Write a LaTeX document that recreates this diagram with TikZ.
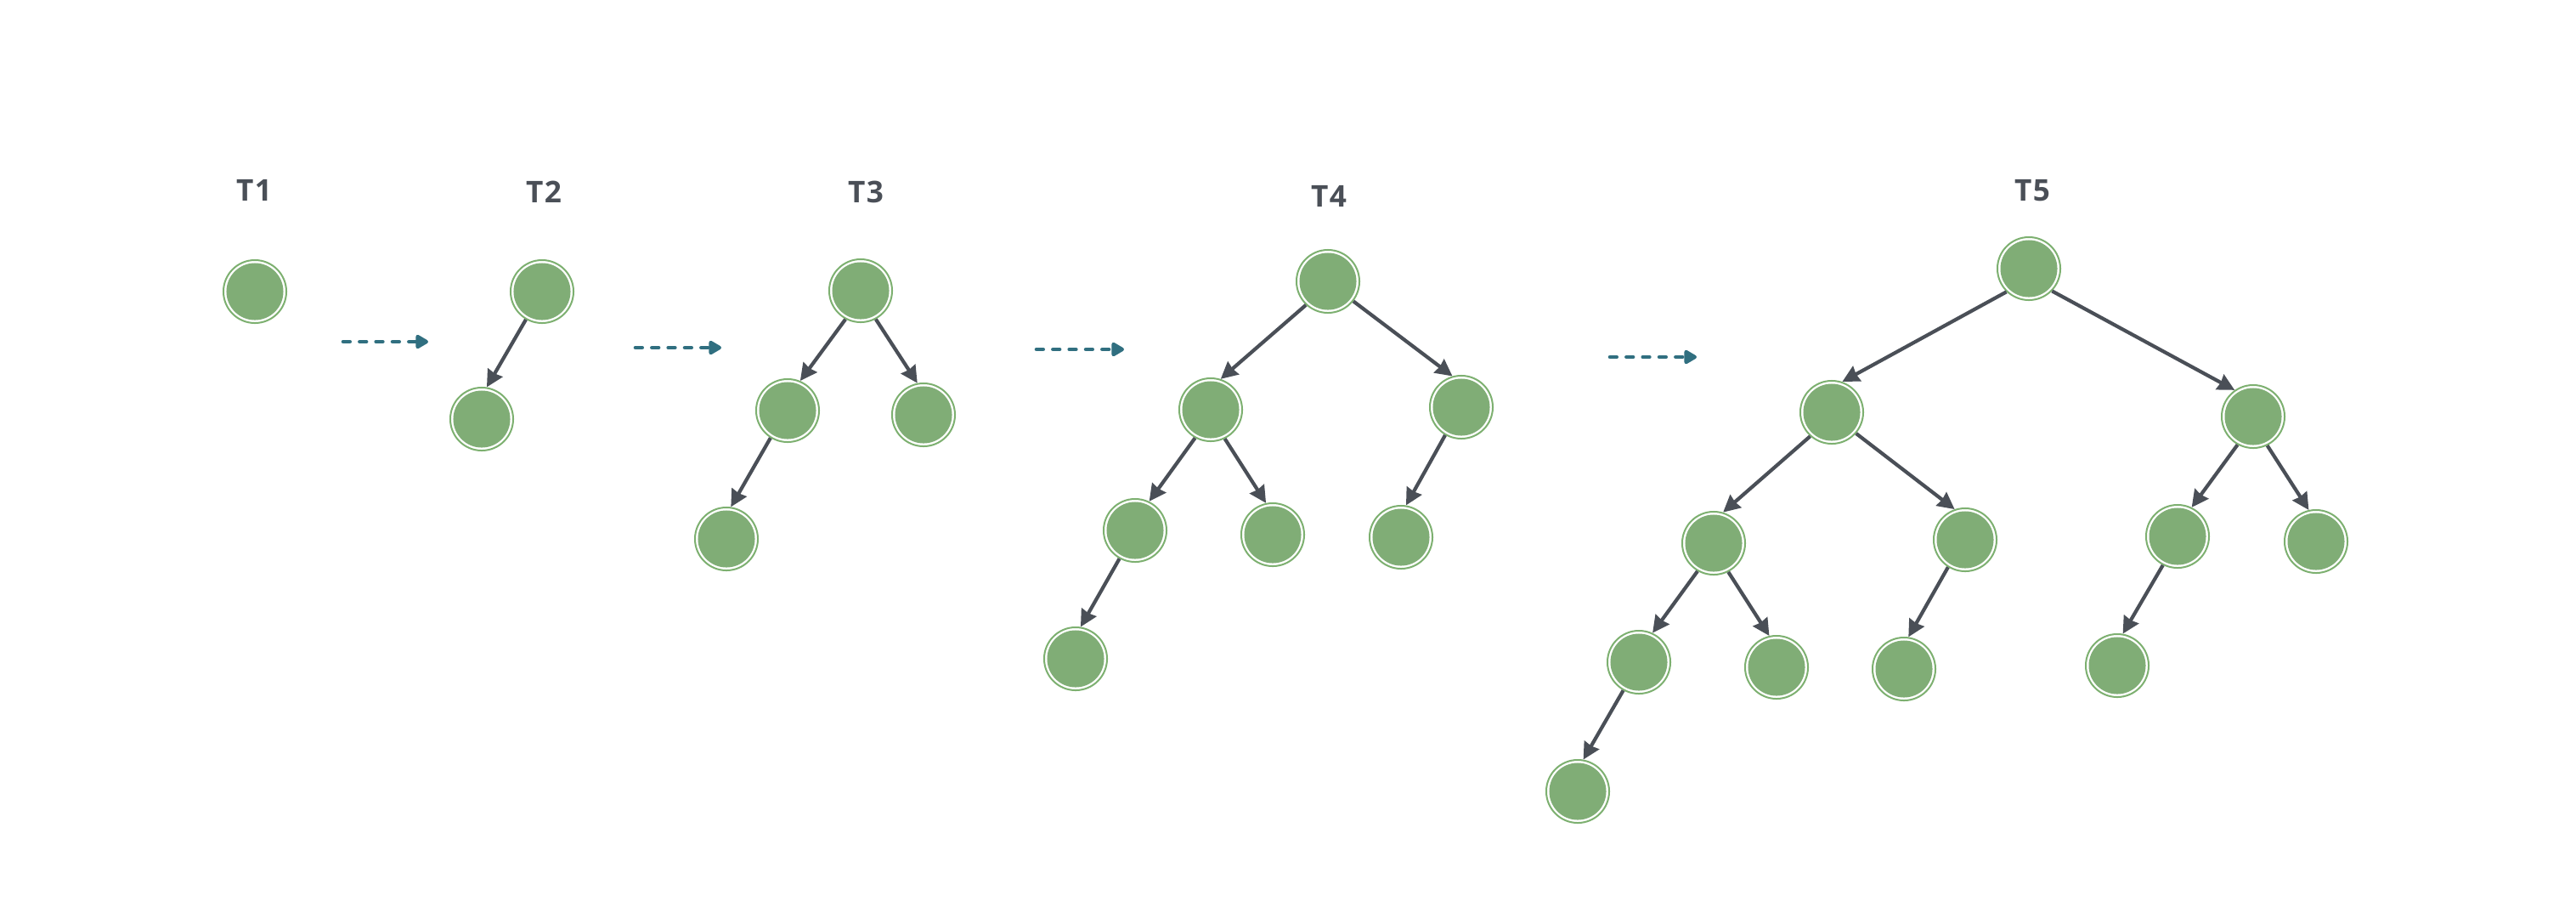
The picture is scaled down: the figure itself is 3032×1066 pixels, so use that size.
\documentclass[tikz,border=0pt]{standalone}
\usepackage{fontspec}
\setmainfont{Open Sans}
\newfontfamily\lblfont{Open Sans}[LetterSpace=4]
\usetikzlibrary{arrows.meta}
\definecolor{nodegreen}{HTML}{80AD76}
\definecolor{ringgreen}{HTML}{7DB070}
\definecolor{edgegray}{HTML}{4A4F57}
\definecolor{teal}{HTML}{306F80}
\definecolor{labelgray}{HTML}{4A4F57}
\tikzset{
  tnode/.style={circle, minimum size=0.74cm, inner sep=0pt, draw=ringgreen, line width=0.57pt, fill=white,
    path picture={\fill[nodegreen] (path picture bounding box.center) circle (0.335cm);}},
  tedge/.style={draw=edgegray, line width=1.2pt, -{Stealth[length=5.6pt, width=5.6pt, inset=0.35pt]}},
  stagearrow/.style={draw=teal, line width=1.3pt, line cap=round, dash pattern=on 2.2pt off 3.3pt,
    -{Triangle[round, length=4.8pt, width=5.2pt]}},
  tlabel/.style={text=labelgray, font=\lblfont\bfseries\fontsize{10}{12}\selectfont, inner sep=0pt}
}
\begin{document}
\begin{tikzpicture}[x=0.01cm, y=-0.01cm]
\useasboundingbox (0,0) rectangle (3032,1066);
% labels
\node[tlabel] (l1) at (299,224) {T1};
\node[tlabel] (l2) at (640,226) {T2};
\node[tlabel] (l3) at (1019,226) {T3};
\node[tlabel] (l4) at (1564,231) {T4};
\node[tlabel] (l5) at (2392,224) {T5};
% T1
\node[tnode] (a1) at (300,343) {};
% T2
\node[tnode] (b1) at (638,343) {};
\node[tnode] (b2) at (567,493) {};
% T3
\node[tnode] (c1) at (1013,342) {};
\node[tnode] (c2) at (927,483) {};
\node[tnode] (c3) at (1087,488) {};
\node[tnode] (c4) at (855,634) {};
% T4
\node[tnode] (d1) at (1563,331) {};
\node[tnode] (d2) at (1425,482) {};
\node[tnode] (d3) at (1720,479) {};
\node[tnode] (d4) at (1336,624) {};
\node[tnode] (d5) at (1498,629) {};
\node[tnode] (d6) at (1649,632) {};
\node[tnode] (d7) at (1266,775) {};
% T5
\node[tnode] (e1) at (2388,316) {};
\node[tnode] (e2) at (2156,485) {};
\node[tnode] (e3) at (2652,490) {};
\node[tnode] (e4) at (2017,639) {};
\node[tnode] (e5) at (2313,635) {};
\node[tnode] (e6) at (2563,631) {};
\node[tnode] (e7) at (2726,637) {};
\node[tnode] (e8) at (1929,779) {};
\node[tnode] (e9) at (2091,785) {};
\node[tnode] (e10) at (2241,787) {};
\node[tnode] (e11) at (2492,783) {};
\node[tnode] (e12) at (1857,931) {};
% tree edges
\draw[tedge] (b1.240) -- (b2.81);
\draw[tedge] (c1.242) -- (c2.67);
\draw[tedge] (c1.298) -- (c3.101);
\draw[tedge] (c2.238) -- (c4.82);
\draw[tedge] (d1.227) -- (d2.72);
\draw[tedge] (d1.322) -- (d3.106);
\draw[tedge] (d2.241) -- (d4.64);
\draw[tedge] (d2.296) -- (d5.102);
\draw[tedge] (d3.240) -- (d6.81);
\draw[tedge] (d4.241) -- (d7.81);
\draw[tedge] (e1.226) -- (e2.71);
\draw[tedge] (e1.316) -- (e3.125);
\draw[tedge] (e2.228) -- (e4.73);
\draw[tedge] (e2.319) -- (e5.109);
\draw[tedge] (e3.241) -- (e6.64);
\draw[tedge] (e3.296) -- (e7.103);
\draw[tedge] (e4.240) -- (e8.65);
\draw[tedge] (e4.297) -- (e9.103);
\draw[tedge] (e5.238) -- (e10.82);
\draw[tedge] (e6.243) -- (e11.80);
\draw[tedge] (e8.241) -- (e12.80);
% stage arrows
\coordinate (p1s) at (404,402); \coordinate (p1e) at (504,402);
\coordinate (p2s) at (748,409); \coordinate (p2e) at (849,409);
\coordinate (p3s) at (1220,411); \coordinate (p3e) at (1323,411);
\coordinate (p4s) at (1895,420); \coordinate (p4e) at (1997,420);
\draw[stagearrow] (p1s) -- (p1e);
\draw[stagearrow] (p2s) -- (p2e);
\draw[stagearrow] (p3s) -- (p3e);
\draw[stagearrow] (p4s) -- (p4e);
\end{tikzpicture}
\end{document}
